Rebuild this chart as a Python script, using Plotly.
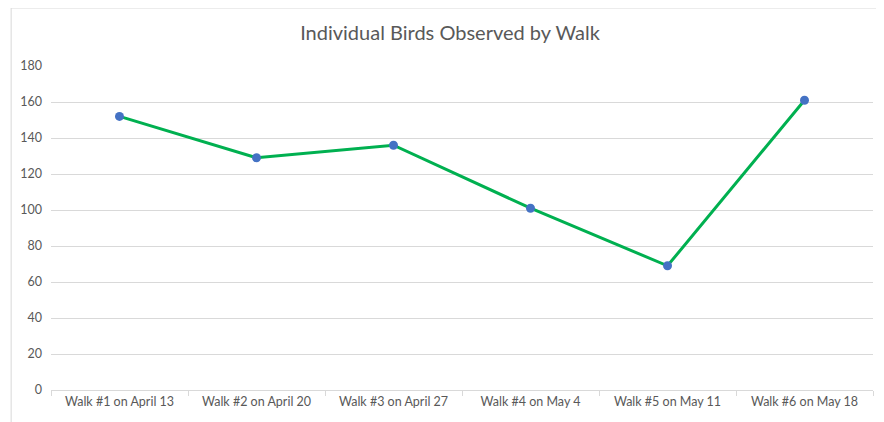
import plotly.graph_objects as go

categories = ["Walk #1 on April 13", "Walk #2 on April 20", "Walk #3 on April 27",
              "Walk #4 on May 4", "Walk #5 on May 11", "Walk #6 on May 18"]
birds = [152, 129, 136, 101, 69, 161]
y_ticks = [0, 20, 40, 60, 80, 100, 120, 140, 160, 180]

W, H = 884, 422
ml, mr, mt, mb = 40, 19, 58, 40
pw, ph = W - ml - mr, H - mt - mb

fig = go.Figure()
fig.add_trace(go.Scatter(
    x=categories, y=birds, mode="lines+markers",
    line=dict(color="#00B050", width=3),
    marker=dict(color="#4472C4", size=9),
    showlegend=False,
))

fig.update_layout(
    width=W, height=H,
    margin=dict(l=ml, r=mr, t=mt, b=mb),
    paper_bgcolor="white", plot_bgcolor="white",
    font=dict(family="Lato, Open Sans, sans-serif", color="#595959", size=12),
    title=dict(text="Individual Birds Observed by Walk", x=0.5,
               xanchor="center", y=1 - 25 / H, yanchor="middle",
               font=dict(size=20, color="#595959", family="Lato, sans-serif")),
    xaxis=dict(type="category", range=[-0.5, 5.5], showgrid=False,
               showline=True, linecolor="#d9d9d9", linewidth=1,
               ticks="outside", ticklen=5, tickcolor="#d9d9d9",
               tickson="boundaries", tickfont=dict(size=12.5, color="#595959")),
    yaxis=dict(range=[0, 180], tickvals=y_ticks, showgrid=True, gridcolor="#d9d9d9",
               gridwidth=1, zeroline=False, showline=False, ticks="",
               ticklabelstandoff=8, tickfont=dict(size=12.5, color="#595959")),
    shapes=[dict(type="rect", xref="paper", yref="paper",
                 x0=-ml / pw, x1=1 + mr / pw,
                 y0=-mb / ph, y1=1 + mt / ph,
                 line=dict(color="#d9d9d9", width=1), layer="below")],
)

fig.write_html("out.html")
